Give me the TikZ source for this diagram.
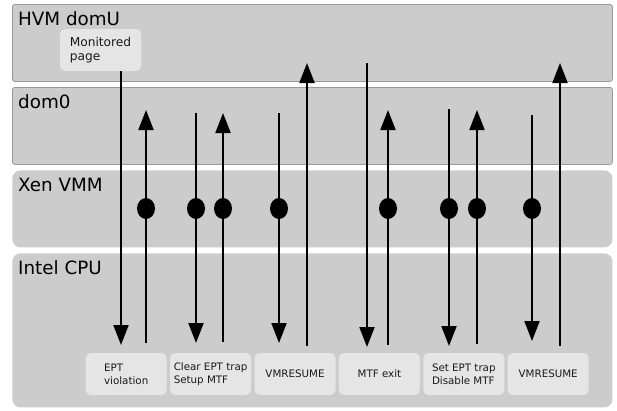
\documentclass[tikz,border=0pt]{standalone}
\usepackage{fontspec}
\setmainfont{DejaVu Sans}
\usetikzlibrary{arrows.meta,positioning,shapes.geometric}

\definecolor{layerfill}{gray}{0.8}
\definecolor{layerline}{gray}{0.6}
\definecolor{boxfill}{gray}{0.9}

\tikzset{
  layer/.style={fill=layerfill, draw=layerline, line width=0.8pt, rounded corners=2.5pt,
    anchor=north west, minimum width=600pt, minimum height=77pt, inner sep=0pt},
  hwlayer/.style={layer, draw=none, rounded corners=8pt},
  layertitle/.style={anchor=base west, inner sep=0pt, font=\fontsize{18.3}{20}\selectfont},
  stepbox/.style={fill=boxfill, rounded corners=5pt, minimum width=81pt, minimum height=42pt,
    inner sep=0pt, align=left, text=black!90, font=\fontsize{10.3}{12.8}\selectfont},
  flow/.style={line width=2pt, -{Triangle[length=20pt,width=15pt]}},
  trapdot/.style={ellipse, fill=black, minimum width=18pt, minimum height=21pt, inner sep=0pt}
}

\begin{document}
\begin{tikzpicture}[x=1pt,y=-1pt]
  \useasboundingbox (0,0) rectangle (617,410);

  % the four layers
  \node[layer] (domU) at (12,4) {};
  \node[layer] (dom0) at (12,87) {};
  \node[hwlayer] (xen) at (12,170) {};
  \node[hwlayer, minimum height=154pt] (cpu) at (12,253) {};

  \node[layertitle] (domUtitle) at (18,25) {HVM domU};
  \node[layertitle] (dom0title) at (18,108) {dom0};
  \node[layertitle] (xentitle) at (18,191) {Xen VMM};
  \node[layertitle] (cputitle) at (18,274.5) {Intel CPU};

  \node[stepbox, font=\fontsize{12.2}{14.3}\selectfont] (page) at (100.5,50) {Monitored\\page};

  % what the CPU does, step by step
  \node[stepbox] (viol) at (126.2,374) {EPT\\violation};
  \node[stepbox, right=3pt of viol] (clear) {Clear EPT trap\\Setup MTF};
  \node[stepbox, right=3pt of clear] (resume) {VMRESUME};
  \node[stepbox, right=3pt of resume] (mtfexit) {MTF exit};
  \node[stepbox, right=3pt of mtfexit] (settrap) {Set EPT trap\\Disable MTF};
  \node[stepbox, right=3pt of settrap] (resume2) {VMRESUME};

  % arrow ends
  \coordinate (pgout) at (121,71);     \coordinate (violin) at (121,345);
  \coordinate (violout) at (146,343);  \coordinate (evtA) at (146,110);
  \coordinate (clrA) at (196,113);     \coordinate (clrB) at (196,343);
  \coordinate (clrC) at (223,342);     \coordinate (clrD) at (223,113);
  \coordinate (resA) at (279,113);     \coordinate (resB) at (279,343);
  \coordinate (resC) at (307,346);     \coordinate (resD) at (307,63);
  \coordinate (mtfA) at (367,63);      \coordinate (mtfB) at (367,347);
  \coordinate (mtfC) at (388,345);     \coordinate (mtfD) at (388,110);
  \coordinate (setA) at (449,109);     \coordinate (setB) at (449,346);
  \coordinate (setC) at (477,344);     \coordinate (setD) at (477,110);
  \coordinate (res2A) at (532,115);    \coordinate (res2B) at (532,341);
  \coordinate (res2C) at (560,346);    \coordinate (res2D) at (560,63);

  \draw[flow] (pgout) -- (violin);
  \draw[flow] (violout) -- (evtA);
  \draw[flow] (clrA) -- (clrB);
  \draw[flow] (clrC) -- (clrD);
  \draw[flow] (resA) -- (resB);
  \draw[flow] (resC) -- (resD);
  \draw[flow] (mtfA) -- (mtfB);
  \draw[flow] (mtfC) -- (mtfD);
  \draw[flow] (setA) -- (setB);
  \draw[flow] (setC) -- (setD);
  \draw[flow] (res2A) -- (res2B);
  \draw[flow] (res2C) -- (res2D);

  % hypervisor hooks
  \node[trapdot] (xenA) at (146,208.5) {};
  \node[trapdot] (xenB) at (196,208.5) {};
  \node[trapdot] (xenC) at (223,208.5) {};
  \node[trapdot] (xenD) at (279,208.5) {};
  \node[trapdot] (xenE) at (388,208.5) {};
  \node[trapdot] (xenF) at (449,208.5) {};
  \node[trapdot] (xenG) at (477,208.5) {};
  \node[trapdot] (xenH) at (532,208.5) {};
\end{tikzpicture}
\end{document}
